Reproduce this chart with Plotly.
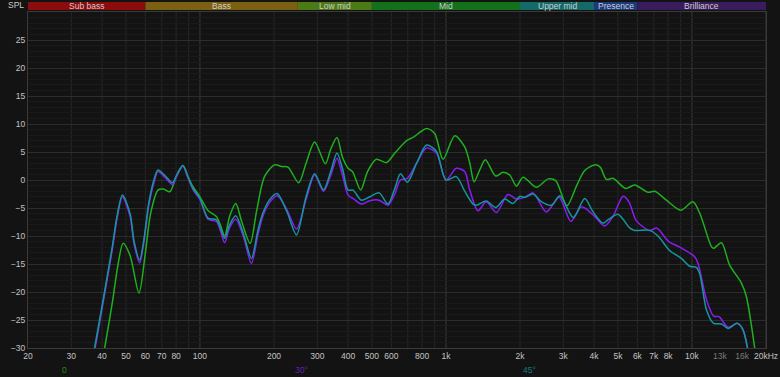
import math
import plotly.graph_objects as go

# ---------------- data ----------------
F_MIN, F_MAX = 20, 20000
Y_MIN, Y_MAX = -30, 30

tick_freqs = [20, 30, 40, 50, 60, 70, 80, 100, 200, 300, 400, 500, 600, 800,
              1000, 2000, 3000, 4000, 5000, 6000, 7000, 8000, 10000, 13000, 16000, 20000]
tick_labels = ["20", "30", "40", "50", "60", "70", "80", "100", "200", "300", "400", "500", "600", "800",
               "1k", "2k", "3k", "4k", "5k", "6k", "7k", "8k", "10k",
               "<span style='color:#7a7a7a'>13k</span>", "<span style='color:#7a7a7a'>16k</span>", "20kHz"]
grid_freqs = [30, 40, 50, 60, 70, 80, 90, 200, 300, 400, 500, 600, 700, 800, 900,
              2000, 3000, 4000, 5000, 6000, 7000, 8000, 9000]
major_grid_freqs = [100, 1000, 10000, 20000]
y_ticks = [-30, -25, -20, -15, -10, -5, 0, 5, 10, 15, 20, 25]

band_names = ["Sub bass", "Bass", "Low mid", "Mid", "Upper mid", "Presence", "Brilliance"]
band_edges = [20, 60, 250, 500, 2000, 4000, 6000, 20000]
band_colors = ["#8a0c0c", "#7b6011", "#4c7a15", "#15701b", "#136a68", "#1b3a7c", "#3a1b5c"]

# 0 degrees (green)
f_0 = [41, 44, 46.5, 48.7, 52, 56.5, 60, 63, 67.5, 71, 75.4, 80, 85.3, 89, 93.7, 100, 108, 116.6,
       121, 126, 132, 139.8, 148, 160, 170, 183, 201, 215, 228, 252, 270, 292.6, 323.6, 340, 360.6,
       380, 400, 417, 450, 480, 521, 573, 620, 690, 735, 834, 900, 973, 1086, 1192, 1250, 1301,
       1372, 1446, 1593, 1706, 1816, 1934, 2058, 2334, 2601, 2795, 3105, 3400, 3665, 4025, 4236,
       4489, 4776, 5377, 5850, 6630, 7062, 7875, 9000, 10090, 10750, 12000, 12250, 13180, 14230,
       15890, 16640, 17990]
db_0 = [-30, -22, -15, -11.3, -13.5, -20.2, -13, -6, -1.8, -1.6, -2.1, 0.5, 2.6, 0.8, -1.2, -3.0,
        -5.5, -6.5, -8.0, -10.0, -6.5, -4.2, -7.5, -11.3, -5.5, 0.6, 2.7, 2.4, 2.3, -0.5, 3.0, 6.8,
        2.9, 5.5, 7.6, 4.0, 2.1, 1.5, -1.8, 1.5, 3.7, 3.1, 4.8, 7.0, 7.6, 9.2, 8.3, 3.7, 7.9, 5.9,
        3.0, -0.3, 1.8, 3.6, 0.7, 1.4, 0.9, -1.1, 0.5, -1.3, 0.2, -0.1, -4.6, -1.0, 1.7, 2.7, 2.3,
        0.1, 0.3, -1.5, -0.9, -2.2, -2.0, -3.6, -5.4, -3.9, -5.9, -11.9, -12.2, -11.2, -15.2,
        -18.4, -20.8, -30]

# 30 degrees (purple)
f_30 = [37.5, 40, 44, 46, 48.4, 52, 54, 56.9, 59, 62, 65, 67.5, 72, 77.3, 81, 85.3, 89, 93.7, 100,
        107.8, 116.6, 121, 126, 132, 139.8, 150, 161.9, 172, 180, 192, 206, 225, 246.9, 270, 292.6,
        318, 340, 360.6, 380, 400, 419, 453, 490, 535, 581, 620, 653, 697, 760, 834, 915, 1000,
        1102, 1192, 1250, 1349, 1459, 1604, 1787, 1934, 2090, 2259, 2559, 2883, 3220, 3557, 4025,
        4420, 4776, 5248, 5546, 5945, 6730, 7211, 8000, 8915, 10260, 10590, 11460, 12250, 12880,
        14030, 15250, 16140, 16820]
db_30 = [-30, -23, -12.5, -7, -3.0, -6.5, -11.5, -14.8, -11.5, -4.5, -0.5, 1.5, 0.5, -0.8, 1.0,
         2.5, 0.6, -1.7, -3.5, -7.0, -7.4, -9.0, -11.2, -8.5, -7.0, -10.0, -14.9, -9.8, -6.5,
         -4.0, -2.8, -5.2, -8.75, -3.5, 0.9, -2.0, 0.8, 3.9, 0.8, -2.7, -3.3, -4.3, -3.7, -3.6,
         -4.5, -2.5, 0.0, 0.3, 3.0, 5.7, 4.8, 0.0, 2.1, 1.5, -1.8, -5.5, -3.9, -5.8, -2.6, -3.4,
         -3.1, -2.3, -5.7, -3.1, -7.4, -4.8, -6.5, -8.2, -6.5, -2.9, -3.9, -7.3, -9.0, -8.6,
         -10.9, -12.0, -13.7, -14.9, -21.4, -24.3, -24.4, -26.3, -25.6, -26.8, -30]

# 45 degrees (teal)
f_45 = [37.3, 40, 44, 46, 48.4, 52, 54, 56.9, 59, 62, 65, 67.5, 72, 77.3, 81, 85.3, 89, 93.7, 100,
        107.8, 116.6, 121, 126, 132, 139.8, 150, 161.9, 172, 180, 192, 206, 225, 246.9, 270, 292.6,
        318, 340, 360.6, 380, 400, 419, 453, 490, 535, 581, 620, 653, 697, 760, 834, 915, 1000,
        1102, 1192, 1289, 1331, 1459, 1593, 1734, 1872, 2000, 2090, 2259, 2448, 2690, 2904, 3291,
        3665, 3963, 4347, 4600, 5000, 5600, 5850, 6730, 7280, 8114, 9060, 9795, 10420, 10750,
        11460, 12250, 13180, 14030, 15250, 16030, 16820]
db_45 = [-30, -22.5, -12, -6.5, -2.7, -6, -11, -14.3, -11, -4, 0, 1.8, 0.8, -0.5, 1.2, 2.6, 0.8,
         -1.5, -3.3, -6.8, -7.1, -8.5, -10.4, -8.0, -6.4, -9.5, -14.0, -9.0, -6.0, -3.5, -2.4,
         -5.5, -9.8, -3.0, 1.1, -1.8, 1.5, 4.8, 2.0, -1.8, -1.8, -3.6, -3.0, -2.3, -4.3, -1.5,
         1.1, -0.4, 3.0, 6.25, 5.1, 0.0, 0.6, -2.0, -4.3, -4.5, -3.75, -4.9, -3.4, -4.2, -2.9,
         -3.1, -2.5, -3.9, -4.5, -2.8, -6.7, -3.3, -5.7, -7.7, -7.0, -6.1, -8.6, -9.0, -9.0,
         -10.0, -12.6, -14.0, -15.4, -15.6, -16.7, -23.2, -25.6, -25.7, -26.5, -25.6, -26.5, -30]

series = [
    ("0", f_0, db_0, "#1fb01f", "#1a8c1a"),
    ("30°", f_30, db_30, "#8a1cf5", "#6a1cb8"),
    ("45°", f_45, db_45, "#15969c", "#137a7c"),
]
legend_pos = [0.05, 0.37, 0.68]

# ---------------- figure ----------------
L0, L1 = math.log10(F_MIN), math.log10(F_MAX)


def px(f):
    return (math.log10(f) - L0) / (L1 - L0)


fig = go.Figure()
for name, f, d, col, _ in series:
    fig.add_trace(go.Scatter(x=f, y=d, mode="lines", name=name,
                             line=dict(color=col, width=1.5, shape="spline", smoothing=0.8),
                             hoverinfo="skip"))

shapes = []
for gf in grid_freqs:
    shapes.append(dict(type="line", xref="paper", yref="paper", x0=px(gf), x1=px(gf), y0=0, y1=1,
                       line=dict(color="#272727", width=1), layer="below"))
for gf in major_grid_freqs:
    shapes.append(dict(type="line", xref="paper", yref="paper", x0=px(gf), x1=px(gf), y0=0, y1=1,
                       line=dict(color="#3a3a3a", width=1), layer="below"))

annotations = []
for i, nm in enumerate(band_names):
    a, b = px(band_edges[i]), px(band_edges[i + 1])
    shapes.append(dict(type="rect", xref="paper", yref="paper", x0=a, x1=b, y0=1.006, y1=1.030,
                       fillcolor=band_colors[i], line=dict(width=0), layer="above"))
    annotations.append(dict(text=nm, xref="paper", yref="paper", x=(a + b) / 2, y=1.018,
                            showarrow=False, font=dict(size=8.5, color="#cdcdcd"),
                            xanchor="center", yanchor="middle"))

annotations.append(dict(text="SPL", xref="paper", yref="paper", x=0, y=1.021, xshift=-2,
                        showarrow=False, xanchor="right", yanchor="middle",
                        font=dict(size=8.5, color="#c8c8c8")))
for (name, _, _, _, lc), lp in zip(series, legend_pos):
    annotations.append(dict(text=name, xref="paper", yref="paper", x=lp, y=-0.066,
                            showarrow=False, xanchor="center", yanchor="middle",
                            font=dict(size=8.5, color=lc)))

fig.update_layout(
    width=780, height=377,
    margin=dict(l=28, r=14, t=12, b=29),
    paper_bgcolor="#131313", plot_bgcolor="rgba(0,0,0,0)",
    font=dict(family="Liberation Sans, Arial, sans-serif", size=8.5, color="#c4c4c4"),
    showlegend=False,
    shapes=shapes, annotations=annotations,
    xaxis=dict(type="log", range=[L0, L1], tickvals=tick_freqs, ticktext=tick_labels,
               showgrid=False, zeroline=False, showline=True, linecolor="#3a3a3a", mirror=True,
               ticks="", tickfont=dict(size=8.5, color="#c4c4c4"), automargin=False,
               ticklabeloverflow="allow"),
    yaxis=dict(range=[Y_MIN, Y_MAX], tickvals=y_ticks, showgrid=True, gridcolor="#2c2c2c",
               zeroline=False, showline=True, linecolor="#3a3a3a", mirror=True, ticks="",
               tickfont=dict(size=8.5, color="#c4c4c4"), automargin=False,
               ticklabeloverflow="allow",
               minor=dict(dtick=1, showgrid=True, gridcolor="#1a1a1a")),
)

fig.write_html("out.html")
